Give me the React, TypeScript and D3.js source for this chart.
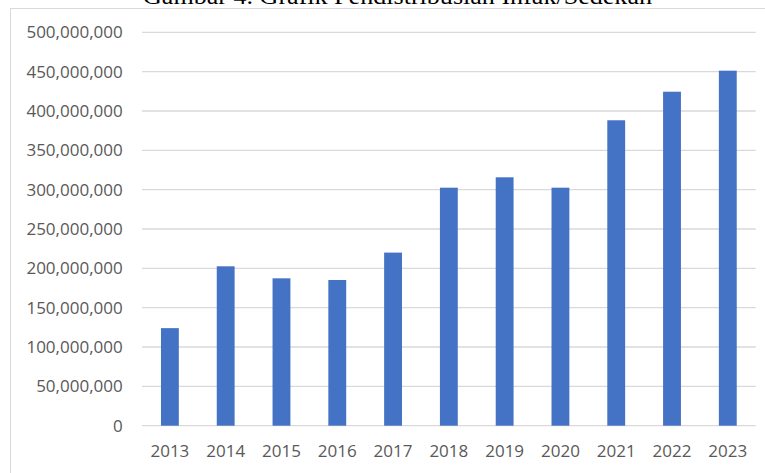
import React from "react";
import * as d3 from "d3";

const years = ["2013", "2014", "2015", "2016", "2017", "2018", "2019", "2020", "2021", "2022", "2023"];
const values = [124000000, 202600000, 187300000, 185200000, 220000000, 302500000, 315700000, 302500000, 388200000, 424500000, 451200000];
const yTicks = [0, 50000000, 100000000, 150000000, 200000000, 250000000, 300000000, 350000000, 400000000, 450000000, 500000000];
const title = "Gambar 4. Grafik Pendistribusian Infak/Sedekah";

const W = 765;
const H = 473;
const plotLeft = 142;
const plotRight = 755.7;
const plotTop = 32.3;
const plotBottom = 425.7;

export default function App() {
  const x = d3.scaleBand<string>().domain(years).range([plotLeft, plotRight]).paddingInner(0.68).paddingOuter(0.34);
  const y = d3.scaleLinear().domain([0, 500000000]).range([plotBottom, plotTop]);
  const fmt = d3.format(",");
  const font = "'Open Sans', sans-serif";
  return (
    <svg width={W} height={H} style={{ position: "absolute", left: 0, top: 0, background: "#fff" }}>
      <rect x={0} y={0} width={W} height={H} fill="#fff" />
      <rect x={10.5} y={8.5} width={W + 10} height={H + 10} fill="#fff" stroke="#d9d9d9" strokeWidth={1} />
      <text
        x={397.5}
        y={4}
        textAnchor="middle"
        fontFamily="'Liberation Serif', 'Times New Roman', serif"
        fontSize={23}
        fill="#000"
        textLength={509}
        lengthAdjust="spacingAndGlyphs"
      >
        {title}
      </text>
      {yTicks.map((t) => (
        <g key={t}>
          <line x1={plotLeft} x2={plotRight} y1={y(t)} y2={y(t)} stroke="#d9d9d9" strokeWidth={1.3} />
          <text x={122.7} y={y(t) + 6} textAnchor="end" fontFamily={font} fontSize={17} fill="#595959">
            {fmt(t)}
          </text>
        </g>
      ))}
      {years.map((yr, i) => (
        <rect
          key={yr}
          x={x(yr)}
          y={y(values[i])}
          width={x.bandwidth()}
          height={plotBottom - y(values[i])}
          fill="#4472C4"
        />
      ))}
      {years.map((yr) => (
        <text
          key={yr}
          x={(x(yr) as number) + x.bandwidth() / 2}
          y={456.5}
          textAnchor="middle"
          fontFamily={font}
          fontSize={17}
          fill="#595959"
        >
          {yr}
        </text>
      ))}
    </svg>
  );
}
